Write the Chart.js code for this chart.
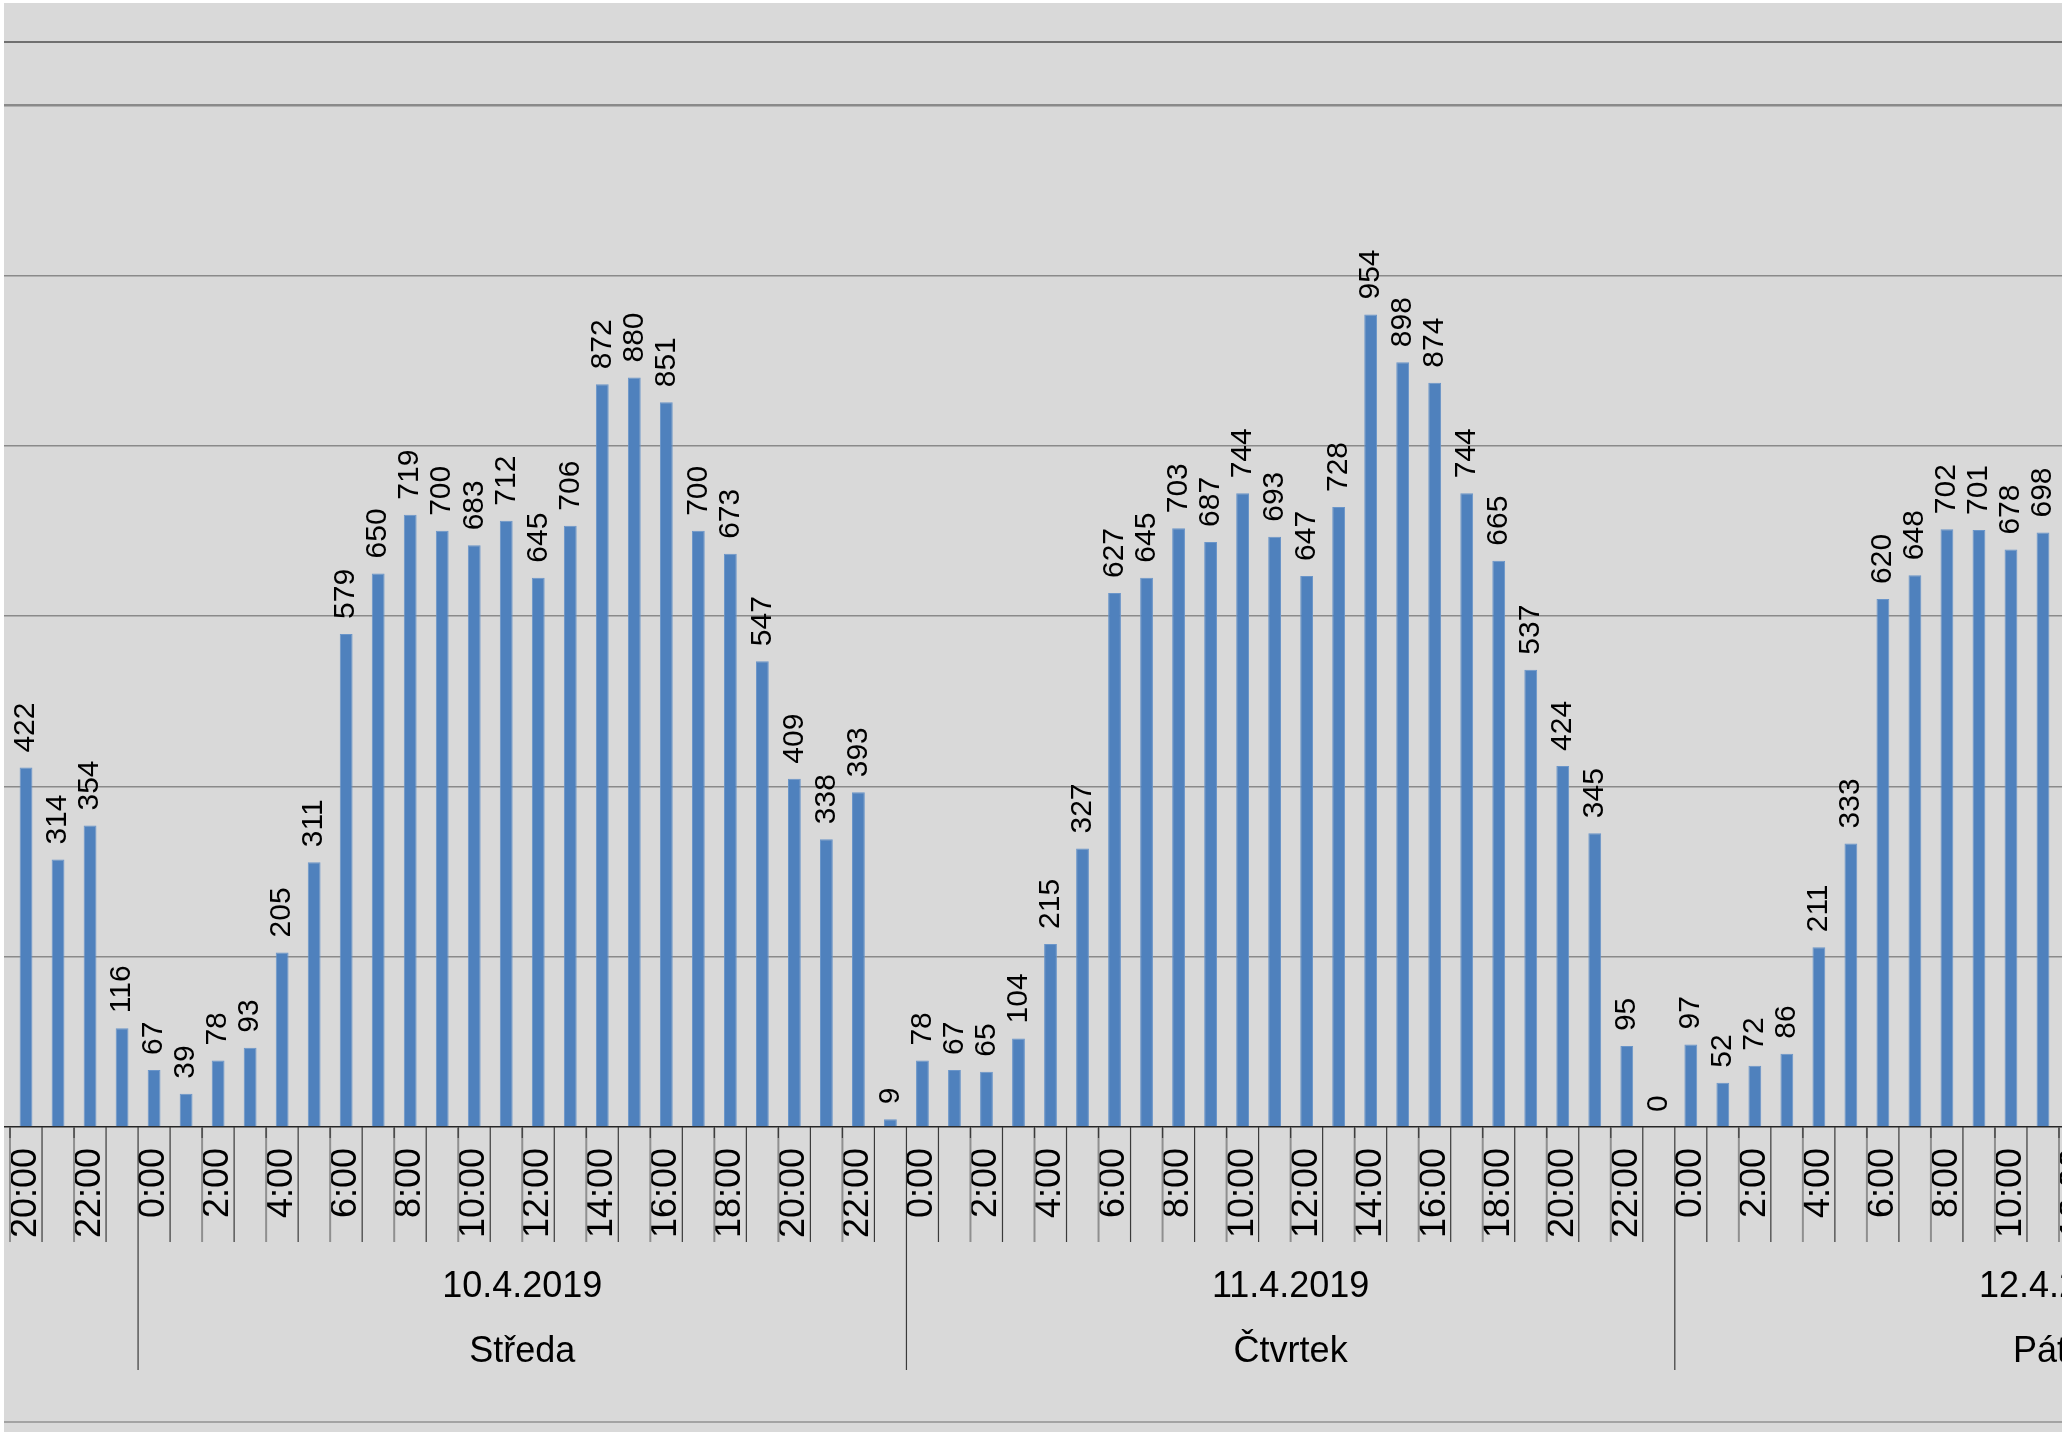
<!DOCTYPE html>
<html>
<head>
<meta charset="utf-8">
<script src="https://cdn.jsdelivr.net/npm/chart.js@4/dist/chart.umd.min.js"></script>
<style>
  body { margin: 0; background: #fff; }
  #wrap { position: absolute; left: 4px; top: 3px; width: 2058px; height: 1429px; background: #d9d9d9; overflow: hidden; }
  #c { position: absolute; left: -26px; top: 0; }
  #foot { position: absolute; left: 0; top: 1418px; width: 100%; height: 2px; background: #a3a3a3; }
</style>
</head>
<body>
<div id="wrap">
  <canvas id="c" width="2113" height="1429"></canvas>
  <div id="foot"></div>
</div>
<script>
// visible slice: 9.4. 19:00 .. 12.4. 12:00
const days = ['9.4.2019', '10.4.2019', '11.4.2019', '12.4.2019'];
const dayNames = ['Úterý', 'Středa', 'Čtvrtek', 'Pátek'];
const firstHour = [19, 0, 0, 0];
const lastHour = [23, 23, 23, 12];

const valuesTue = [452, 422, 314, 354, 116];
const valuesWed = [67, 39, 78, 93, 205, 311, 579, 650, 719, 700, 683, 712, 645, 706, 872, 880, 851, 700, 673, 547, 409, 338, 393, 9];
const valuesThu = [78, 67, 65, 104, 215, 327, 627, 645, 703, 687, 744, 693, 647, 728, 954, 898, 874, 744, 665, 537, 424, 345, 95, 0];
const valuesFri = [97, 52, 72, 86, 211, 333, 620, 648, 702, 701, 678, 698, null];

const yTicks = [0, 200, 400, 600, 800, 1000, 1200];
const yMax = 1274;

const dayValues = [valuesTue, valuesWed, valuesThu, valuesFri];
const categories = [];
const catHour = [];
const catDay = [];
const values = [];
days.forEach(function (d, di) {
    for (let h = firstHour[di]; h <= lastHour[di]; h++) {
        categories.push(h + ':00');
        catHour.push(h);
        catDay.push(di);
        values.push(dayValues[di][h - firstHour[di]]);
    }
});

const FONT = '"Liberation Sans", Arial, sans-serif';

const decorations = {
    id: 'decorations',
    afterDraw(chart) {
        const ctx = chart.ctx;
        const x = chart.scales.x;
        const area = chart.chartArea;
        const bottom = area.bottom;

        // top border line
        ctx.save();
        ctx.strokeStyle = '#4d4d4d';
        ctx.lineWidth = 1.3;
        ctx.beginPath();
        ctx.moveTo(0, area.top);
        ctx.lineTo(chart.width, area.top);
        ctx.stroke();

        // tick marks between categories + day separators
        for (let i = 0; i <= categories.length; i++) {
            const px = x.getPixelForValue(i - 0.5);
            const h = i < categories.length ? catHour[i] : 13;
            if (h === 0) {
                ctx.strokeStyle = '#3a3a3a';
                ctx.lineWidth = 1.2;
                ctx.beginPath();
                ctx.moveTo(px, bottom);
                ctx.lineTo(px, bottom + 243);
                ctx.stroke();
            } else if (h % 2 === 0) {
                ctx.strokeStyle = '#8f8f8f';
                ctx.lineWidth = 2;
                ctx.beginPath();
                ctx.moveTo(px, bottom);
                ctx.lineTo(px, bottom + 115);
                ctx.stroke();
                ctx.strokeStyle = '#3a3a3a';
                ctx.lineWidth = 1.2;
                ctx.beginPath();
                ctx.moveTo(px, bottom);
                ctx.lineTo(px, bottom + 11);
                ctx.stroke();
            } else {
                ctx.strokeStyle = '#3a3a3a';
                ctx.lineWidth = 1.2;
                ctx.beginPath();
                ctx.moveTo(px, bottom);
                ctx.lineTo(px, bottom + 115);
                ctx.stroke();
            }
        }

        // day group labels, centred on the full day
        ctx.fillStyle = '#000';
        ctx.textAlign = 'center';
        ctx.textBaseline = 'alphabetic';
        ctx.font = '36px ' + FONT;
        days.forEach(function (d, di) {
            const start = catDay.indexOf(di) - firstHour[di];
            const cx = x.getPixelForValue(start + 11.5);
            ctx.fillText(d, cx, bottom + 170);
            ctx.fillText(dayNames[di], cx, bottom + 235);
        });
        ctx.restore();
    },
    afterDatasetsDraw(chart) {
        const ctx = chart.ctx;
        const meta = chart.getDatasetMeta(0);
        ctx.save();
        ctx.fillStyle = '#000';
        ctx.font = '30px ' + FONT;
        ctx.textAlign = 'left';
        ctx.textBaseline = 'middle';
        meta.data.forEach(function (bar, i) {
            const v = values[i];
            if (v === null || v === undefined) return;
            ctx.save();
            ctx.translate(bar.x, bar.y - 15);
            ctx.rotate(-Math.PI / 2);
            ctx.fillText(String(v), 0, 0);
            ctx.restore();
        });
        ctx.restore();
    }
};

new Chart(document.getElementById('c').getContext('2d'), {
    type: 'bar',
    data: {
        labels: categories,
        datasets: [{
            data: values,
            backgroundColor: '#4f81bd',
            borderColor: '#6a95c9',
            borderWidth: 1,
            barPercentage: 0.4,
            categoryPercentage: 1
        }]
    },
    options: {
        responsive: false,
        animation: false,
        events: [],
        layout: { padding: { top: 39, left: 0, right: 0, bottom: 0 } },
        plugins: {
            legend: { display: false },
            tooltip: { enabled: false }
        },
        scales: {
            x: {
                offset: true,
                grid: { display: false, drawTicks: false },
                border: { display: true, color: '#262626', width: 1.5 },
                ticks: {
                    autoSkip: false,
                    minRotation: 90,
                    maxRotation: 90,
                    padding: 21,
                    color: '#000',
                    font: { family: FONT, size: 36 },
                    callback: function (value, index) {
                        return catHour[index] % 2 === 0 ? categories[index] : '';
                    }
                },
                afterFit: function (scale) {
                    scale.height = 305;
                    scale.paddingLeft = 0;
                    scale.paddingRight = 0;
                }
            },
            y: {
                min: 0,
                max: yMax,
                afterBuildTicks: function (scale) {
                    scale.ticks = yTicks.map(function (v) { return { value: v }; });
                },
                ticks: { display: false },
                border: { display: false },
                grid: {
                    drawTicks: false,
                    color: function (c) { return c.tick && c.tick.value === 0 ? 'rgba(0,0,0,0)' : '#8a8a8a'; },
                    lineWidth: function (c) { return c.tick && c.tick.value === 1200 ? 2.5 : 1.4; }
                },
                afterFit: function (scale) {
                    scale.width = 0;
                    scale.paddingTop = 0;
                    scale.paddingBottom = 0;
                }
            }
        }
    },
    plugins: [decorations]
});
</script>
</body>
</html>
